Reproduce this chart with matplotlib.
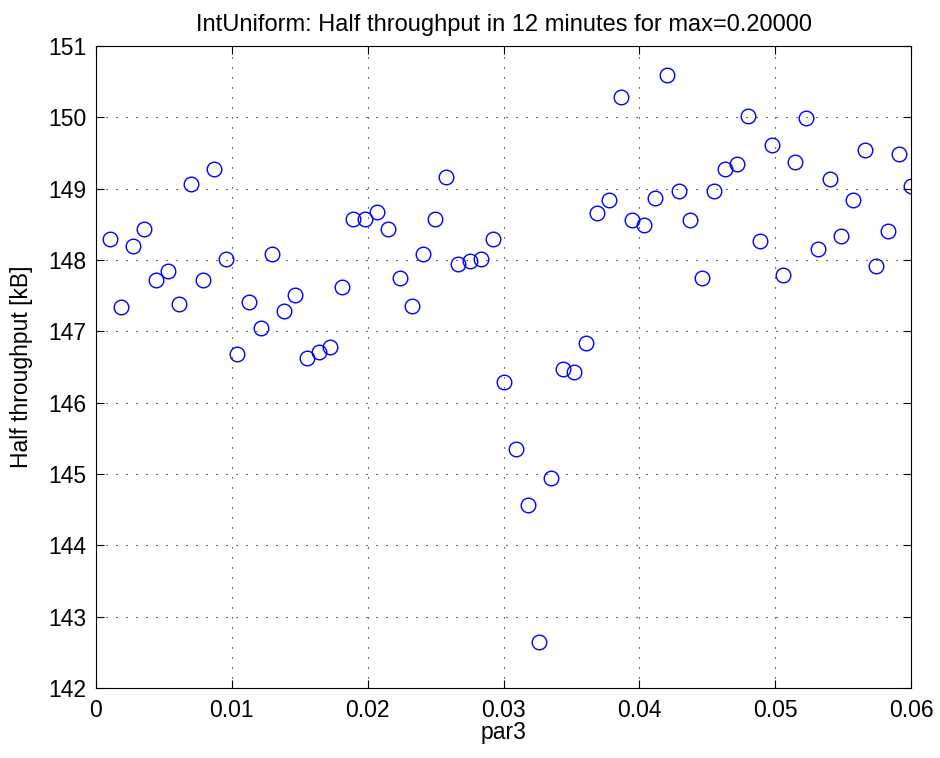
import numpy as np
import matplotlib
matplotlib.use("Agg")
import matplotlib.pyplot as plt

plt.rcParams['font.family'] = ['Liberation Sans', 'DejaVu Sans']

# parameter sweep and measured half throughput
par3 = np.linspace(0.001, 0.06, 70)
half_throughput = [
    148.30, 147.34, 148.20, 148.43, 147.72, 147.85, 147.38, 149.07, 147.72, 149.28,
    148.02, 146.68, 147.41, 147.04, 148.09, 147.28, 147.51, 146.62, 146.71, 146.78,
    147.62, 148.57, 148.57, 148.67, 148.43, 147.75, 147.35, 148.09, 148.57, 149.17,
    147.95, 147.99, 148.02, 148.29, 146.29, 145.35, 144.57, 142.64, 144.95, 146.47,
    146.43, 146.84, 148.66, 148.84, 150.29, 148.56, 148.49, 148.87, 150.59, 148.97,
    148.56, 147.75, 148.97, 149.28, 149.34, 150.02, 148.26, 149.61, 147.79, 149.37,
    149.99, 148.15, 149.14, 148.33, 148.84, 149.54, 147.92, 148.40, 149.48, 149.04,
]

x_ticks = [0, 0.01, 0.02, 0.03, 0.04, 0.05, 0.06]
x_tick_labels = ["0", "0.01", "0.02", "0.03", "0.04", "0.05", "0.06"]
y_ticks = list(range(142, 152))

FS = 16.5

fig = plt.figure(figsize=(9.4, 7.58), dpi=100)
ax = fig.add_axes([96 / 940, 1 - 688 / 758, 815 / 940, 642 / 758])

ax.plot(par3, half_throughput, linestyle='none', marker='o', markersize=10.5,
        markerfacecolor='none', markeredgecolor='#0000ff', markeredgewidth=1.0)

ax.set_xlim(0, 0.06)
ax.set_ylim(142, 151)
ax.set_xticks(x_ticks)
ax.set_xticklabels(x_tick_labels)
ax.set_yticks(y_ticks)

ax.tick_params(direction='in', top=True, right=True, length=6, width=0.8,
               labelsize=FS)
ax.tick_params(axis='x', pad=8)
ax.tick_params(axis='y', pad=7)
ax.grid(True, color='black', linestyle=(0, (1, 8)), linewidth=0.8)
for s in ax.spines.values():
    s.set_linewidth(0.8)

ax.set_xlabel("par3", fontsize=FS, labelpad=-1)
ax.set_ylabel("Half throughput [kB]", fontsize=FS, labelpad=11)
ax.set_title("IntUniform: Half throughput in 12 minutes for max=0.20000",
             fontsize=17, pad=11)

fig.savefig("out.png", dpi=100)
